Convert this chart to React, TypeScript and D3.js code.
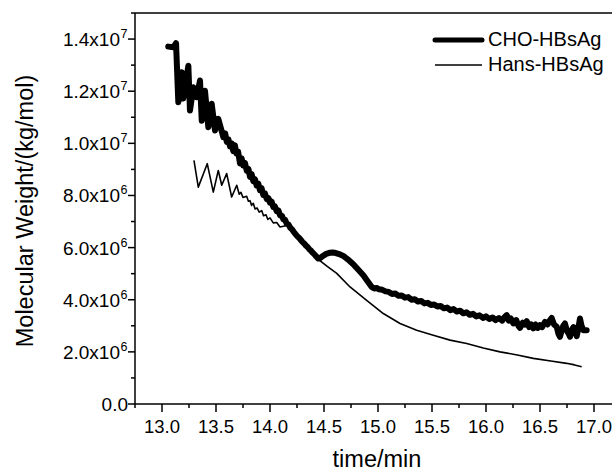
import React from 'react'
import * as d3 from 'd3'

// values (time in min, MW in 1e6 kg/mol)
const choTime = [13.058, 13.105, 13.130, 13.151, 13.182, 13.197, 13.244, 13.259, 13.290, 13.321, 13.352, 13.368, 13.398, 13.429, 13.460, 13.491, 13.521, 13.568,
  13.585, 13.600, 13.615, 13.630, 13.645, 13.660, 13.675, 13.690, 13.705, 13.722, 13.737, 13.752, 13.768, 13.785, 13.800, 13.815, 13.830, 13.845, 13.861, 13.876, 13.892, 13.907, 13.922, 13.938, 13.953, 13.970, 13.985,
  14.000, 14.015, 14.030, 14.045, 14.062, 14.078, 14.093, 14.110, 14.125, 14.140, 14.155, 14.172, 14.188, 14.204, 14.220, 14.236, 14.252, 14.268, 14.284, 14.300, 14.316, 14.332, 14.348, 14.364, 14.380, 14.396, 14.412, 14.428, 14.447,
  14.463, 14.490, 14.520, 14.550, 14.580, 14.610, 14.640, 14.679, 14.720, 14.771, 14.820, 14.864, 14.905, 14.942, 14.965, 14.988,
  15.010, 15.040, 15.070, 15.100, 15.130, 15.160, 15.190, 15.220, 15.250, 15.280, 15.310, 15.340, 15.370, 15.400, 15.430, 15.460, 15.490, 15.520, 15.550, 15.580, 15.610, 15.640, 15.670, 15.700, 15.730, 15.760, 15.790, 15.820, 15.850, 15.880, 15.910, 15.940, 15.975,
  16.000, 16.030, 16.060, 16.090, 16.120, 16.150, 16.175, 16.192, 16.210, 16.230, 16.253, 16.280, 16.300, 16.315, 16.340, 16.360, 16.377, 16.400, 16.420, 16.438, 16.460, 16.480, 16.500, 16.520, 16.546, 16.570, 16.590, 16.608, 16.630, 16.655, 16.670, 16.685, 16.700, 16.715, 16.731, 16.750, 16.765, 16.778, 16.795, 16.810, 16.824, 16.840, 16.855, 16.870, 16.885, 16.901, 16.932]
const choMW = [13.71, 13.69, 13.84, 11.58, 12.73, 11.72, 12.98, 11.26, 12.15, 11.77, 12.41, 10.87, 12.02, 10.62, 11.52, 10.49, 10.94, 10.24,
  10.38, 10.05, 10.15, 9.88, 10.00, 9.70, 9.92, 9.60, 9.68, 9.23, 9.42, 9.15, 9.25, 8.95, 9.02, 8.71, 8.82, 8.55, 8.62, 8.38, 8.45, 8.20, 8.28, 8.02, 8.08, 7.86, 7.90,
  7.72, 7.76, 7.56, 7.58, 7.40, 7.42, 7.24, 7.22, 7.08, 7.06, 6.92, 6.88, 6.76, 6.70, 6.60, 6.52, 6.44, 6.38, 6.30, 6.22, 6.16, 6.08, 6.02, 5.94, 5.88, 5.80, 5.74, 5.66, 5.58,
  5.59, 5.68, 5.76, 5.80, 5.81, 5.79, 5.75, 5.68, 5.55, 5.36, 5.14, 4.94, 4.70, 4.49, 4.43, 4.45,
  4.40, 4.38, 4.32, 4.30, 4.22, 4.24, 4.15, 4.16, 4.08, 4.10, 4.00, 4.02, 3.93, 3.95, 3.86, 3.88, 3.80, 3.82, 3.74, 3.76, 3.67, 3.70, 3.60, 3.64, 3.55, 3.58, 3.48, 3.52, 3.42, 3.46, 3.36, 3.40, 3.30,
  3.36, 3.26, 3.32, 3.22, 3.30, 3.20, 3.35, 3.41, 3.20, 3.28, 3.09, 3.22, 3.00, 2.92, 3.12, 3.05, 3.18, 2.95, 3.05, 2.90, 3.05, 2.92, 3.02, 2.95, 3.15, 3.05, 3.20, 3.30, 3.05, 2.96, 2.70, 2.58, 2.80, 3.00, 3.09, 2.80, 2.70, 2.58, 2.85, 2.95, 2.83, 2.60, 2.90, 3.28, 3.00, 2.83, 2.83]

const hansTime = [13.296, 13.336, 13.419, 13.475, 13.521, 13.553, 13.599, 13.645, 13.692, 13.715, 13.731, 13.750, 13.784, 13.800, 13.815, 13.830, 13.845, 13.862, 13.880, 13.900, 13.923, 13.940, 13.963, 13.980, 14.000, 14.030, 14.062, 14.093, 14.155, 14.216, 14.278, 14.340, 14.389, 14.447, 14.530, 14.618, 14.741, 14.895, 15.049, 15.204, 15.358, 15.512, 15.667, 15.821, 15.975, 16.130, 16.290, 16.438, 16.600, 16.747, 16.820, 16.886]
const hansMW = [9.35, 8.32, 9.22, 8.13, 8.96, 8.39, 8.84, 7.94, 8.39, 8.05, 8.12, 7.92, 7.97, 7.78, 7.80, 7.62, 7.70, 7.48, 7.52, 7.36, 7.42, 7.22, 7.26, 7.08, 7.14, 6.95, 6.96, 6.79, 6.85, 6.55, 6.32, 6.03, 5.80, 5.55, 5.28, 5.01, 4.49, 3.98, 3.47, 3.09, 2.83, 2.64, 2.45, 2.32, 2.15, 2.00, 1.88, 1.75, 1.65, 1.56, 1.50, 1.43]

const xMajor = [13.0, 13.5, 14.0, 14.5, 15.0, 15.5, 16.0, 16.5, 17.0]
const yMajor = [0, 2, 4, 6, 8, 10, 12, 14]
const yLabels = ['0.0', '2.0x10|6', '4.0x10|6', '6.0x10|6', '8.0x10|6', '1.0x10|7', '1.2x10|7', '1.4x10|7']
const seriesNames = ['CHO-HBsAg', 'Hans-HBsAg']

const W = 612
const H = 472
const font = '"Liberation Sans", Arial, Helvetica, sans-serif'

export default function App() {
  const x = d3.scaleLinear().domain([12.75, 17.25]).range([135, 621])
  const y = d3.scaleLinear().domain([0, 15]).range([404, 13])

  const line = d3.line<[number, number]>()
    .x(d => x(d[0]))
    .y(d => y(d[1]))

  const cho = choTime.map((t, i) => [t, choMW[i]] as [number, number])
  const hans = hansTime.map((t, i) => [t, hansMW[i]] as [number, number])

  const xMinor = d3.range(12.75, 17.26, 0.25).filter(v => !xMajor.some(m => Math.abs(m - v) < 1e-6))
  const yMinor = d3.range(1, 16, 2)

  return (
    <svg width={W} height={H} style={{ position: 'absolute', left: 0, top: 0, background: '#fff' }}
      fontFamily={font}>
      <rect width={W} height={H} fill='#fff' />
      {/* frame */}
      <line x1={x(12.75)} x2={x(17.25)} y1={y(15)} y2={y(15)} stroke='#000' strokeWidth={1.5} />
      <line x1={x(12.75)} x2={x(17.25)} y1={y(0)} y2={y(0)} stroke='#000' strokeWidth={1.5} />
      <line x1={x(12.75)} x2={x(12.75)} y1={y(0)} y2={y(15)} stroke='#000' strokeWidth={1.5} />

      {/* x ticks */}
      {xMajor.map(v => (
        <g key={'xm' + v}>
          <line x1={x(v)} x2={x(v)} y1={y(0)} y2={y(0) + 8} stroke='#000' strokeWidth={1.5} />
          <text x={x(v)} y={433} textAnchor='middle' fontSize={18.5} fill='#000'>{v.toFixed(1)}</text>
        </g>
      ))}
      {xMinor.map(v => (
        <line key={'xn' + v} x1={x(v)} x2={x(v)} y1={y(0)} y2={y(0) + 4} stroke='#000' strokeWidth={1.5} />
      ))}

      {/* y ticks */}
      {yMajor.map((v, i) => {
        const [base, exp] = yLabels[i].split('|')
        return (
          <g key={'ym' + v}>
            <line x1={x(12.75) - 7} x2={x(12.75)} y1={y(v)} y2={y(v)} stroke='#000' strokeWidth={1.5} />
            <text x={exp ? 120 : 128} y={y(v) + 7} textAnchor='end' fontSize={19} fill='#000'>{base}</text>
            {exp ? <text x={120.5} y={y(v) - 1} fontSize={12.5} fill='#000'>{exp}</text> : null}
          </g>
        )
      })}
      {yMinor.map(v => (
        <line key={'yn' + v} x1={x(12.75) - 4} x2={x(12.75)} y1={y(v)} y2={y(v)} stroke='#000' strokeWidth={1.5} />
      ))}

      {/* axis titles */}
      <text x={377} y={467} textAnchor='middle' fontSize={23.5} fill='#000'>time/min</text>
      <text transform='translate(33,211) rotate(-90)' textAnchor='middle' fontSize={23.5} fill='#000'>
        Molecular Weight/(kg/mol)
      </text>

      {/* series */}
      <path d={line(hans) ?? ''} fill='none' stroke='#000' strokeWidth={1.6} strokeLinejoin='round' />
      <path d={line(cho) ?? ''} fill='none' stroke='#000' strokeWidth={6} strokeLinejoin='round' strokeLinecap='round' />

      {/* legend */}
      <line x1={435} x2={482} y1={40} y2={40} stroke='#000' strokeWidth={5} strokeLinecap='round' />
      <text x={488} y={46} fontSize={20} fill='#000'>{seriesNames[0]}</text>
      <line x1={435} x2={482} y1={65} y2={65} stroke='#000' strokeWidth={1.6} />
      <text x={488} y={71} fontSize={20} fill='#000'>{seriesNames[1]}</text>
    </svg>
  )
}
